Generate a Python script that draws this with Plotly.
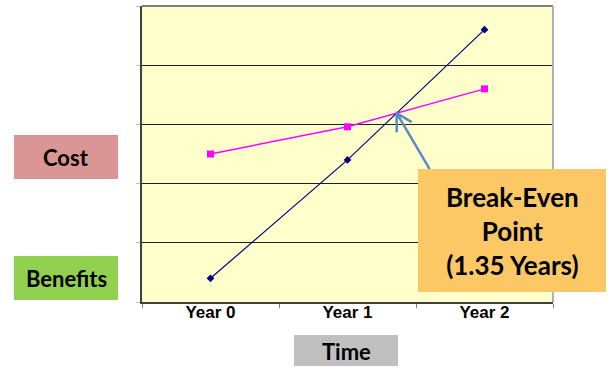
import plotly.graph_objects as go

years = ["Year 0", "Year 1", "Year 2"]
benefits = [0.40, 2.40, 4.60]
cost = [2.50, 2.96, 3.60]
break_even_label = "Break-Even<br>Point<br>(1.35 Years)"

W, H = 608, 368
L, R, T, B = 142, 55, 6, 66
pw, ph = W - L - R, H - T - B

def px(x):
    return (x - L) / pw

def py(y):
    return (H - B - y) / ph

fig = go.Figure()
fig.add_trace(go.Scatter(x=years, y=cost, mode="lines+markers",
                         line=dict(color="#FF00FF", width=1.5),
                         marker=dict(symbol="square", size=7, color="#FF00FF"),
                         showlegend=False))
fig.add_trace(go.Scatter(x=years, y=benefits, mode="lines+markers",
                         line=dict(color="#000080", width=1.2),
                         marker=dict(symbol="diamond", size=6, color="#000080"),
                         showlegend=False))

# intersection between Year 1 and Year 2
t = (cost[1] - benefits[1]) / ((benefits[2] - benefits[1]) - (cost[2] - cost[1]))
xi = 1 + t
yi = benefits[1] + (benefits[2] - benefits[1]) * t

shapes = []
# borders
shapes.append(dict(type="line", xref="paper", yref="paper", x0=0, x1=1, y0=1, y1=1,
                   line=dict(color="#808080", width=2)))
shapes.append(dict(type="line", xref="paper", yref="paper", x0=1, x1=1, y0=0, y1=1,
                   line=dict(color="#B0B0B0", width=2)))
# arrow to break-even point
shapes.append(dict(type="path", xref="x", yref="y", xsizemode="pixel", ysizemode="pixel",
                   xanchor=xi, yanchor=yi,
                   path="M 33,-56 L 0,0 M 0,-19 L 0,0 L 15,-9",
                   line=dict(color="#5B8BC6", width=2.5), layer="above"))

def box(x0, y0, x1, y1, color):
    shapes.append(dict(type="rect", xref="paper", yref="paper",
                       x0=px(x0), x1=px(x1), y0=py(y1), y1=py(y0),
                       fillcolor=color, line=dict(width=0), layer="above"))

box(14, 135, 118, 179, "#DA9694")
box(14, 256, 118, 300, "#92D050")
box(294, 335, 398, 366, "#C0C0C0")
box(418, 169, 606, 292, "#FCC866")

fig.update_layout(shapes=shapes)

def label(text, cx, cy, size):
    fig.add_annotation(x=px(cx), y=py(cy), xref="paper", yref="paper",
                       text=text, showarrow=False,
                       font=dict(family="Lato", size=size, color="black", weight="bold"),
                       xanchor="center", yanchor="middle")

label("Cost", 66, 157, 22)
label("Benefits", 66, 278, 22)
label("Time", 346, 351, 22)
fig.add_annotation(x=px(512), y=py(231), xref="paper", yref="paper",
                   text=break_even_label, showarrow=False,
                   font=dict(family="Lato", size=26, color="black", weight="bold"),
                   xanchor="center", yanchor="middle", align="center")

fig.update_xaxes(type="category", range=[-0.5, 2.5], showline=True, linecolor="#404040",
                 linewidth=2, ticks="outside", tickson="boundaries", ticklen=4,
                 tickcolor="#808080", showgrid=False, ticklabelstandoff=-6,
                 tickfont=dict(family="Liberation Sans", size=17, color="black", weight="bold"))
fig.update_yaxes(range=[0, 5], dtick=1, showline=True, linecolor="#404040", linewidth=2,
                 showgrid=True, gridcolor="#202020", gridwidth=1, ticks="outside",
                 ticklen=4, tickcolor="#C0C0C0", showticklabels=False, zeroline=False)

fig.update_layout(width=W, height=H, margin=dict(l=L, r=R, t=T, b=B),
                  plot_bgcolor="#FFFFCC", paper_bgcolor="white")

fig.write_html("out.html", config={"displayModeBar": False},
               post_script="document.body.style.margin='0px';")
